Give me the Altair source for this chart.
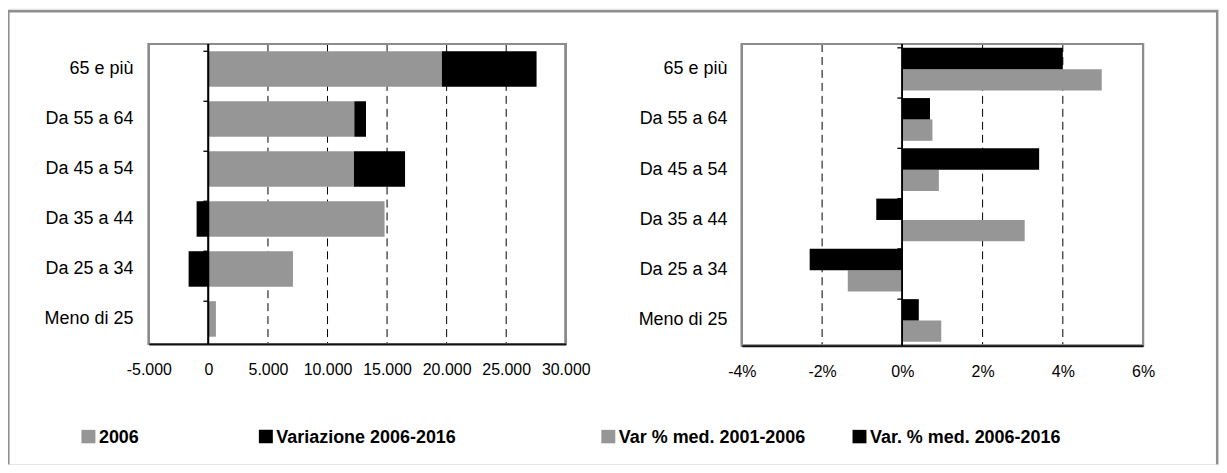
import altair as alt
import pandas as pd

# ---------------- data ----------------
categories = ["65 e più", "Da 55 a 64", "Da 45 a 54", "Da 35 a 44", "Da 25 a 34", "Meno di 25"]
pop_2006 = [19600, 12250, 12220, 14790, 7100, 630]
var_2006_2016 = [7950, 980, 4290, -990, -1660, 0]
pct_2001_2006 = [4.97, 0.75, 0.91, 3.05, -1.36, 0.97]
pct_2006_2016 = [4.00, 0.69, 3.41, -0.65, -2.31, 0.41]
left_series = ["2006", "Variazione 2006-2016"]
right_series = ["Var % med. 2001-2006", "Var. % med. 2006-2016"]
left_ticks = [-5000, 0, 5000, 10000, 15000, 20000, 25000, 30000]
right_ticks = [-4, -2, 0, 2, 4, 6]
left_grid = [5000, 10000, 15000, 20000, 25000]
right_grid = [-2, 2, 4]

# ---------------- styles / layout ----------------
GRAY = "#969696"
BLACK = "#000000"
FRAME = "#8c8c8c"
FONT = "Liberation Sans"
W, H = 1215, 457
OX, OY = 8, 8
LX = (149.3 - OX, 567.6 - OX)
LY = (43.4 - OY, 344.3 - OY)
RX = (744.3 - OX, 1146.8 - OX)
RY = (43.4 - OY, 346.0 - OY)

left_df = pd.DataFrame({
    "cat": categories * 2,
    "series": [left_series[0]] * len(categories) + [left_series[1]] * len(categories),
    "value": pop_2006 + var_2006_2016,
    "ord": [0] * len(categories) + [1] * len(categories),
})
right_df = pd.DataFrame({
    "cat": categories * 2,
    "series": [right_series[0]] * len(categories) + [right_series[1]] * len(categories),
    "value": pct_2001_2006 + pct_2006_2016,
})
cat_df = pd.DataFrame({"cat": categories})


def x_axis(offset, values, expr):
    return alt.Axis(orient="bottom", offset=offset, values=values, labelExpr=expr, title=None,
                    grid=False, ticks=False, domain=True, domainColor="#111111", domainWidth=2,
                    labelFont=FONT, labelFontSize=16, labelColor="#000000", labelPadding=18,
                    labelFlush=False, labelOverlap=False, zindex=1)


def y_axis(offset, pad):
    return alt.Axis(orient="left", offset=offset, title=None, ticks=False, domain=False,
                    grid=False, labelFont=FONT, labelFontSize=18, labelColor="#000000",
                    labelPadding=pad, labelLimit=300)


def panel(df, grid_vals, dom, xr, yr, xa, ya, bars):
    xs = alt.Scale(domain=dom, range=list(xr), nice=False, zero=False)
    ys = alt.Scale(domain=categories, range=list(yr), paddingInner=bars["pi"], paddingOuter=bars["pi"] / 2)
    grid = alt.Chart(pd.DataFrame({"g": grid_vals})).mark_rule(
        color=BLACK, strokeWidth=1, strokeDash=[8, 5]
    ).encode(x=alt.X("g:Q", scale=xs, axis=xa), y=alt.value(yr[0]), y2=alt.value(yr[1]))
    frame = alt.Chart(cat_df).mark_rect(fillOpacity=0, stroke=FRAME, strokeWidth=2).encode(
        x=alt.X(datum=dom[0], scale=xs, axis=xa), x2=alt.X2(datum=dom[1]),
        y=alt.value(yr[0]), y2=alt.value(yr[1]))
    zero = alt.Chart(cat_df).mark_rule(color=BLACK, strokeWidth=1.3).encode(
        x=alt.X(datum=0, scale=xs, axis=xa), y=alt.value(yr[0]), y2=alt.value(yr[1]))
    ticks = alt.Chart(cat_df).mark_rule(color=BLACK, strokeWidth=1.3, xOffset=-5).encode(
        x=alt.X(datum=0, scale=xs, axis=xa), x2=alt.X2(datum=0),
        y=alt.Y("cat:N", bandPosition=0, scale=ys, axis=ya))
    layers = [grid, frame] + bars["make"](xs, ys) + [zero, ticks]
    return alt.layer(*layers)


def left_bars(xs, ys):
    return [alt.Chart(left_df).mark_bar().encode(
        y=alt.Y("cat:N", scale=ys, axis=lya),
        x=alt.X("value:Q", scale=xs, axis=lxa, stack="zero"),
        color=alt.Color("series:N", scale=alt.Scale(domain=left_series, range=[GRAY, BLACK]), legend=None),
        order=alt.Order("ord:Q"),
    )]


def right_bars(xs, ys):
    return [alt.Chart(right_df).mark_bar().encode(
        y=alt.Y("cat:N", scale=ys, axis=rya),
        yOffset=alt.YOffset("series:N", scale=alt.Scale(domain=[right_series[1], right_series[0]],
                                                        paddingInner=0, paddingOuter=0)),
        x=alt.X("value:Q", scale=xs, axis=rxa),
        color=alt.Color("series:N", scale=alt.Scale(domain=right_series, range=[GRAY, BLACK]), legend=None),
    )]


lxa = x_axis(LY[1] - H, left_ticks,
             "(datum.value < 0 ? '-' : '') + replace(format(abs(datum.value), ',d'), ',', '.')")
lya = y_axis(-LX[0], 16)
rxa = x_axis(RY[1] - H, right_ticks,
             "(datum.value < 0 ? '-' : '') + format(abs(datum.value), 'd') + '%'")
rya = y_axis(-RX[0], 15)

left = panel(left_df, left_grid, [-5000, 30000], LX, LY, lxa, lya, {"pi": 0.29, "make": left_bars})
right = panel(right_df, right_grid, [-4, 6], RX, RY, rxa, rya, {"pi": 0.15, "make": right_bars})

# outer border (top, left, right)
one = pd.DataFrame({"a": [0]})
border_col = "#8f8f8f"
b_top = alt.Chart(one).mark_rule(color=border_col, strokeWidth=2.5).encode(
    x=alt.value(0), x2=alt.value(1214), y=alt.value(2.5))
b_left = alt.Chart(one).mark_rule(color=border_col, strokeWidth=2.5).encode(
    x=alt.value(0.3), y=alt.value(1.3), y2=alt.value(H))
b_right = alt.Chart(one).mark_rule(color=border_col, strokeWidth=2.5).encode(
    x=alt.value(1213.2), y=alt.value(1.3), y2=alt.value(H))

# legend
legend_labels = left_series + right_series
legend_colors = [GRAY, BLACK, GRAY, BLACK]
legend_sq_x = [81.7, 259.7, 603.3, 855.3]
legend_layers = []
for lab, col, sx in zip(legend_labels, legend_colors, legend_sq_x):
    ldf = pd.DataFrame({"label": [lab]})
    legend_layers.append(alt.Chart(ldf).mark_rect(color=col).encode(
        x=alt.value(sx - OX), x2=alt.value(sx - OX + 14),
        y=alt.value(430.5 - OY), y2=alt.value(444 - OY)))
    legend_layers.append(alt.Chart(ldf).mark_text(
        align="left", baseline="alphabetic", font=FONT, fontSize=18, fontWeight="bold", color=BLACK
    ).encode(x=alt.value(sx - OX + 17.5), y=alt.value(443.5 - OY), text="label:N"))

chart = alt.layer(b_top, b_left, b_right, *legend_layers, left, right).resolve_scale(
    x="independent", y="independent", color="independent"
).resolve_axis(x="independent", y="independent").properties(
    width=W, height=H, padding=0, autosize=alt.AutoSizeParams(type="none")
).configure_view(stroke="transparent", strokeWidth=0).configure(background="white")

chart.save("out.html", embed_options={"renderer": "svg", "actions": False})
